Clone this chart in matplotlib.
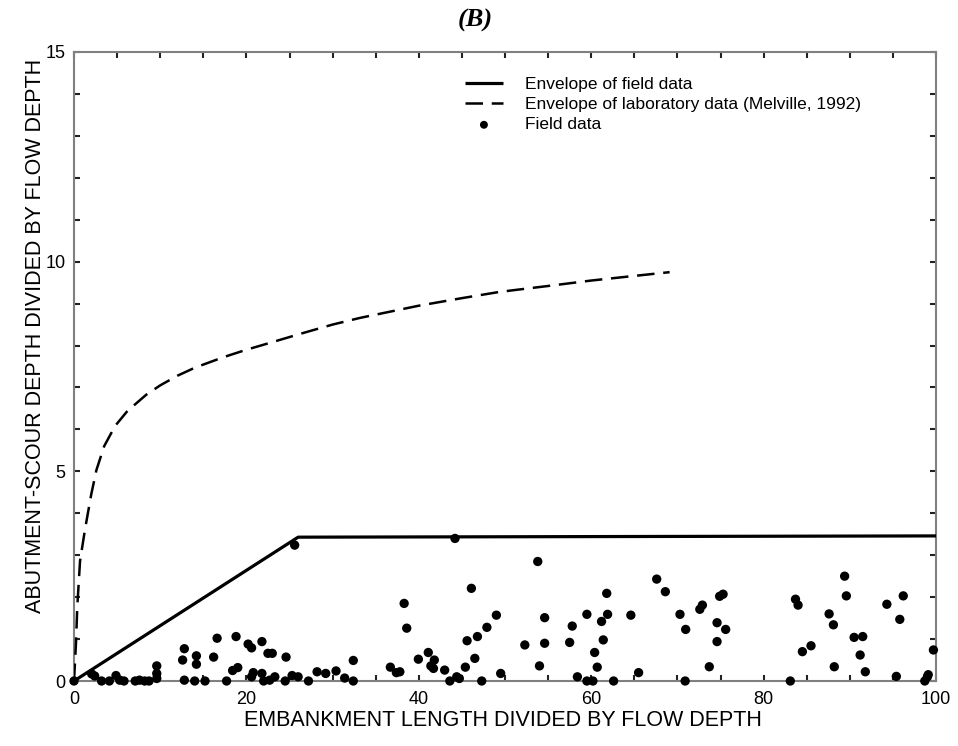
import matplotlib
matplotlib.use("Agg")
import matplotlib.pyplot as plt
from matplotlib.ticker import MultipleLocator

# ---- data ----
field_env_x = [0, 26.0, 100]
field_env_y = [0, 3.43, 3.46]

lab_env_x = [0, 0.23, 0.38, 0.7, 1.28, 2.0, 2.6, 3.5, 4.76, 6.2, 8.4, 10.0, 12.0, 14.0,
             17.3, 20.0, 22.0, 26.6, 30.0, 33.2, 40.0, 45.0, 49.4, 55.0, 60.0, 65.0, 69.1]
lab_env_y = [0, 0.9, 1.77, 2.86, 3.62, 4.45, 5.03, 5.6, 6.08, 6.44, 6.83, 7.05, 7.28, 7.47,
             7.72, 7.9, 8.02, 8.3, 8.5, 8.66, 8.95, 9.13, 9.28, 9.42, 9.55, 9.66, 9.75]

field_x = [0, 2.05, 2.4, 3.2, 4.1, 4.87, 5.3, 5.8, 7.1, 7.6, 8.2, 8.7, 9.6, 9.6, 9.6,
           12.8, 12.6, 12.8, 14.2, 14.2, 14.0, 15.2, 16.2, 16.6, 17.7, 18.4, 19.0, 18.8,
           20.2, 20.6, 20.6, 20.8, 21.8, 21.8, 22.0, 22.5, 23.0, 22.7, 23.3, 24.5, 24.6,
           25.3, 26.0, 25.6, 27.2, 28.2, 29.2, 30.4, 31.4, 32.4, 32.4,
           36.7, 37.4, 37.8, 38.3, 38.6, 39.95, 41.1, 41.8, 41.4, 41.7, 43.0, 43.6, 44.2,
           44.4, 44.7, 45.4, 45.6, 46.1, 46.5, 46.8, 47.3, 47.9, 49.0, 49.5, 52.3, 53.8,
           54.0, 54.6, 54.6, 57.5, 57.8, 58.4, 59.5, 59.5, 60.2, 60.4, 60.7, 61.2, 61.4,
           61.8, 61.9, 62.6, 64.6, 65.5, 67.6,
           68.6, 70.3, 70.9, 70.96, 72.6, 72.9, 73.7, 74.6, 74.6, 74.9, 75.3, 75.6, 83.1,
           83.7, 84.0, 84.5, 85.5, 87.6, 88.1, 88.2, 89.4, 89.6, 90.5, 91.5, 91.2, 91.8,
           94.3, 95.4, 95.8, 96.2, 98.7, 99.0, 99.1, 99.7]
field_y = [0, 0.17, 0.12, 0.0, 0.0, 0.13, 0.02, 0.0, 0.0, 0.02, 0.0, 0.0, 0.36, 0.18, 0.06,
           0.77, 0.5, 0.02, 0.6, 0.4, 0.0, 0.0, 0.57, 1.02, 0.0, 0.25, 0.32, 1.06,
           0.88, 0.79, 0.1, 0.2, 0.94, 0.18, 0.0, 0.66, 0.66, 0.02, 0.1, 0.0, 0.57,
           0.13, 0.1, 3.24, 0.0, 0.22, 0.18, 0.24, 0.07, 0.49, 0.0,
           0.33, 0.2, 0.22, 1.85, 1.26, 0.52, 0.68, 0.5, 0.36, 0.3, 0.26, 0.0, 3.4,
           0.1, 0.06, 0.33, 0.96, 2.21, 0.54, 1.06, 0.0, 1.28, 1.57, 0.18, 0.86, 2.85,
           0.36, 1.51, 0.9, 0.92, 1.31, 0.1, 1.59, 0.0, 0.0, 0.68, 0.33, 1.42, 0.98,
           2.09, 1.59, 0.0, 1.57, 0.2, 2.43,
           2.13, 1.59, 0.0, 1.23, 1.71, 1.81, 0.34, 1.39, 0.94, 2.02, 2.07, 1.23, 0.0,
           1.95, 1.81, 0.7, 0.84, 1.6, 1.34, 0.34, 2.5, 2.03, 1.04, 1.06, 0.62, 0.22,
           1.83, 0.11, 1.47, 2.03, 0.0, 0.1, 0.15, 0.74]

x_ticks = [0, 20, 40, 60, 80, 100]
y_ticks = [0, 5, 10, 15]

plt.rcParams['font.family'] = ['Liberation Sans', 'DejaVu Sans']

fig = plt.figure(figsize=(9.58, 7.46), dpi=100)
ax = fig.add_axes([74/958, 1-681/746, (936-74)/958, (681-52)/746])

ax.plot(field_env_x, field_env_y, color='black', lw=2.3, solid_capstyle='butt',
        label='Envelope of field data', zorder=3)
ax.plot(lab_env_x, lab_env_y, color='black', lw=1.8, linestyle=(0, (7, 3.5)),
        label='Envelope of laboratory data (Melville, 1992)', zorder=3)
ax.scatter(field_x, field_y, s=45, color='black', edgecolors='none',
           label='Field data', zorder=4, clip_on=False)

ax.set_xlim(0, 100)
ax.set_ylim(0, 15)
ax.set_xticks(x_ticks)
ax.set_yticks(y_ticks)
ax.xaxis.set_minor_locator(MultipleLocator(5))
ax.yaxis.set_minor_locator(MultipleLocator(1))
ax.tick_params(which='both', direction='in', top=True, right=True,
               length=4, width=1.5, color='#222222', labelsize=13)
ax.tick_params(axis='x', pad=7)
ax.tick_params(axis='y', pad=6)
for s in ax.spines.values():
    s.set_color('#808080')
    s.set_linewidth(1.5)

ax.set_xlabel('EMBANKMENT LENGTH DIVIDED BY FLOW DEPTH', fontsize=15.5, va='center')
ax.xaxis.set_label_coords(0.498, (681-720)/629)
ax.set_ylabel('ABUTMENT-SCOUR DEPTH DIVIDED BY FLOW DEPTH', fontsize=15.5, va='center')
ax.yaxis.set_label_coords((36-74)/862, 0.548)

fig.text(475/958, 1-20/746, '(B)', ha='center', va='center', fontsize=19,
         fontweight='bold', fontstyle='italic', family='Liberation Serif')

leg = ax.legend(loc='upper left', bbox_to_anchor=((465-74)/862, 0.960), frameon=False,
                fontsize=12.5, handlelength=2.18, handletextpad=1.26, labelspacing=0.28,
                borderpad=0, borderaxespad=0, markerscale=0.85, scatterpoints=1)

fig.savefig('out.png', dpi=100)
